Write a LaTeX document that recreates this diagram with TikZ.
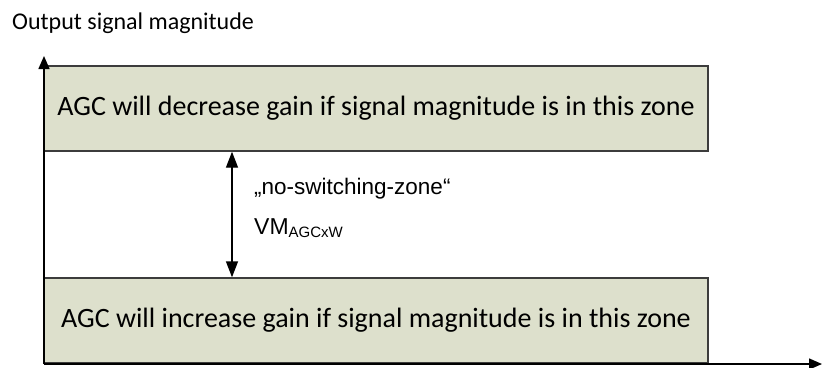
\documentclass[tikz,border=0pt]{standalone}
\usepackage{fontspec}
\setmainfont{Carlito}
\newfontfamily\arialfont{Liberation Sans}
\usetikzlibrary{arrows.meta}
\definecolor{boxfill}{RGB}{221,224,204}
\definecolor{boxline}{RGB}{60,60,60}
\begin{document}
\begin{tikzpicture}[x=1pt,y=-1pt,
  zone/.style={draw=boxline, fill=boxfill, line width=1.4pt, minimum width=664pt, minimum height=85pt, inner sep=0pt, font=\fontsize{28}{32}\selectfont},
  axis/.style={line width=1.4pt, -{Triangle[length=13pt,width=11pt]}},
  dblarrow/.style={line width=1.4pt, {Triangle[length=16pt,width=12pt]}-{Triangle[length=16pt,width=12pt]}},
  lbl/.style={anchor=base west, inner sep=0pt}]
\useasboundingbox (0,0) rectangle (822,367);
\coordinate (o) at (44,364);
\coordinate (ytop) at (44,56);
\coordinate (xend) at (822,364);
\coordinate (vx) at (232,0);
\node[zone] (top) at (376,108.5) {AGC will decrease gain if signal magnitude is in this zone};
\node[zone] (bot) at (376,320.5) {AGC will increase gain if signal magnitude is in this zone};
\draw[axis] (o) -- (ytop);
\draw[axis] (o) -- (xend);
\draw[dblarrow] (top.south -| vx) -- (bot.north -| vx);
\node[lbl, font=\fontsize{24}{28}\selectfont] (title) at (12,29) {Output signal magnitude};
\node[lbl, font=\arialfont\fontsize{22.5}{26}\selectfont] (ns) at (254,194) {„no-switching-zone“};
\node[lbl, font=\arialfont\fontsize{23}{26}\selectfont] (vm) at (254,234) {VM\raisebox{-3pt}{\fontsize{15}{18}\selectfont AGCxW}};
\end{tikzpicture}
\end{document}
